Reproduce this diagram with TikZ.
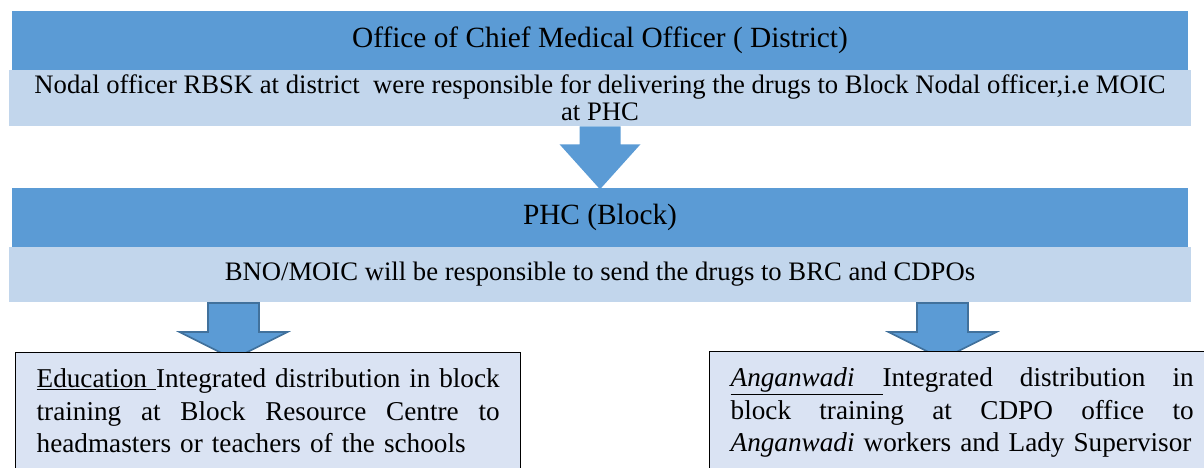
\documentclass[tikz,border=0pt]{standalone}
\usepackage{fontspec}
\setmainfont{Liberation Serif}
\newcommand{\pxu}{0.75pt}
\newlength{\boxtextwd}
\setlength{\boxtextwd}{347.25pt}
\definecolor{bardark}{HTML}{5B9BD5}
\definecolor{barlight}{HTML}{C2D6EC}
\definecolor{boxfill}{HTML}{DAE3F3}
\definecolor{arrowline}{HTML}{41719C}

\begin{document}
\begin{tikzpicture}[x=\pxu,y=-\pxu,
    headbar/.style={rectangle,fill=bardark,inner sep=0pt,minimum width=1176*\pxu,minimum height=59*\pxu,font=\fontsize{22}{26}\selectfont},
    infobar/.style={rectangle,fill=barlight,inner sep=0pt,minimum width=1182*\pxu,align=center,font=\fontsize{20}{20.5}\selectfont},
    blockarrow/.style={fill=bardark,draw=arrowline,line width=1.2pt,line join=miter},
    textbox/.style={rectangle,draw=black,fill=boxfill,line width=1pt,anchor=north west,inner xsep=21*\pxu,inner ysep=12pt,text width=\boxtextwd,font=\fontsize{20.4}{24.4}\selectfont}]

    \useasboundingbox (0,0) rectangle (1204,468);
    \clip (0,0) rectangle (1204,468);

    % district level
    \node[headbar] (cmo) at (600,40.5) {Office of Chief Medical Officer ( District)};
    \node[infobar,minimum height=56*\pxu] (cmoinfo) at (600,98) {Nodal officer RBSK at district~ were responsible for delivering the drugs to Block Nodal officer,i.e MOIC\\at PHC};

    \fill[bardark] (cmoinfo.south) ++(-20.5,0) -- ++(41,0) -- ++(0,18) -- ++(20,0) -- ++(-40.5,45) -- ++(-40.5,-45) -- ++(20,0) -- cycle;

    % block level
    \node[headbar] (phc) at (600,217) {PHC (Block)};
    \node[infobar,minimum height=55*\pxu] (phcinfo) at (600,274.5) {BNO/MOIC will be responsible to send the drugs to BRC and CDPOs};

    \coordinate (edutop) at (233.5,303);
    \coordinate (angtop) at (942.5,303);
    \draw[blockarrow] (edutop) ++(-25.5,0) -- ++(51,0) -- ++(0,29) -- ++(28.5,0) -- ++(-54,27) -- ++(-54,-27) -- ++(28.5,0) -- cycle;
    \draw[blockarrow] (angtop) ++(-25.5,0) -- ++(51,0) -- ++(0,29) -- ++(28.5,0) -- ++(-54,27) -- ++(-54,-27) -- ++(28.5,0) -- cycle;

    % receiving boxes (justified by hand)
    \node[textbox] (edu) at (15,352) {%
      \hbox to\boxtextwd{\underline{Education\ }Integrated\hfill distribution\hfill in\hfill block}
      \hbox to\boxtextwd{training\hfill at\hfill Block\hfill Resource\hfill Centre\hfill to}
      \hbox to\boxtextwd{headmasters or teachers of the schools\hfil}
      \vspace*{30pt}};
    \node[textbox] (ang) at (709,351) {%
      \hbox to\boxtextwd{\underline{\textit{Anganwadi}\hspace{21pt}}Integrated\hfill distribution\hfill in}
      \hbox to\boxtextwd{block\hfill training\hfill at\hfill CDPO\hfill office\hfill to}
      \hbox to\boxtextwd{\textit{Anganwadi} workers and Lady Supervisor\hfil}
      \vspace*{30pt}};
\end{tikzpicture}
\end{document}
